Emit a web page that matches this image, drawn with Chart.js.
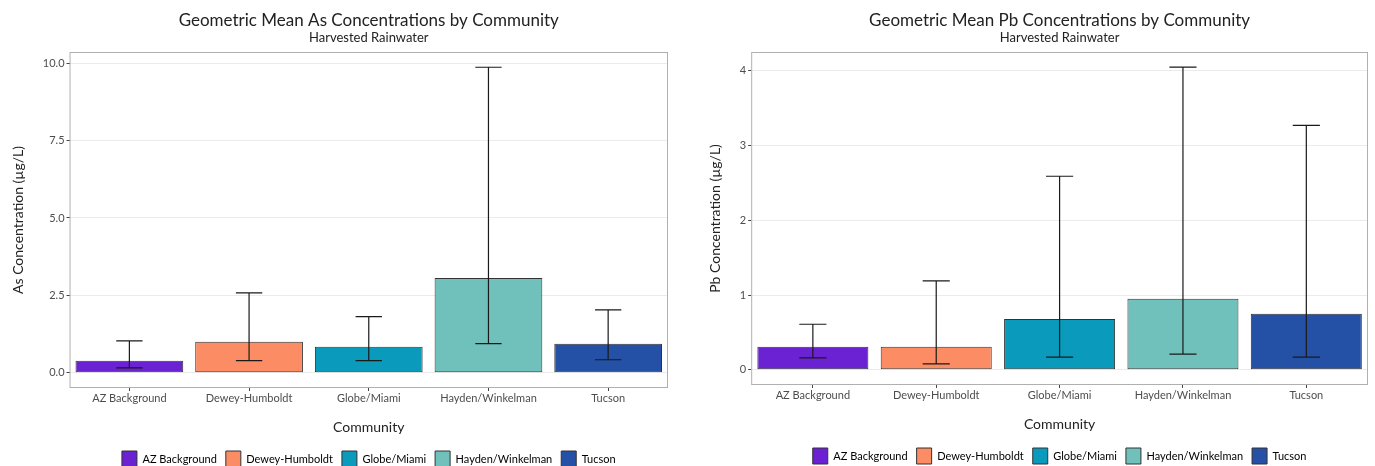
<!DOCTYPE html>
<html>
<head>
<meta charset="utf-8">
<script src="https://cdn.jsdelivr.net/npm/chart.js@4.4.1/dist/chart.umd.min.js"></script>
<style>
  body { margin: 0; background: #fff; }
  canvas { position: absolute; top: 0; }
  #asChart { left: 0; }
  #pbChart { left: 690px; }
</style>
</head>
<body>
<canvas id="asChart" width="690" height="466"></canvas>
<canvas id="pbChart" width="685" height="466"></canvas>
<script>
const communities = ['AZ Background', 'Dewey-Humboldt', 'Globe/Miami', 'Hayden/Winkelman', 'Tucson'];
const barColors = ['#6a22d2', '#fc8c63', '#0a9abb', '#70c1bb', '#2450a6'];

// As, ug/L
const asMean  = [0.39, 1.00, 0.84, 3.06, 0.94];
const asLower = [0.16, 0.39, 0.39, 0.94, 0.42];
const asUpper = [1.03, 2.58, 1.81, 9.87, 2.03];
const asTicks = [0, 2.5, 5, 7.5, 10];

// Pb, ug/L
const pbMean  = [0.31, 0.31, 0.68, 0.95, 0.75];
const pbLower = [0.16, 0.08, 0.17, 0.21, 0.17];
const pbUpper = [0.61, 1.19, 2.59, 4.05, 3.27];
const pbTicks = [0, 1, 2, 3, 4];

const FONT = 'Lato, "Open Sans", sans-serif';

// error bars + panel border
const errorBarPlugin = {
    id: 'errorBars',
    afterDatasetsDraw(chart, args, opts) {
        const ctx = chart.ctx;
        const y = chart.scales.y;
        const meta = chart.getDatasetMeta(0);
        const cat = chart.chartArea.width / communities.length;
        const cap = cat * 0.11;
        ctx.save();
        ctx.strokeStyle = '#1a1a1a';
        ctx.lineWidth = 1.2;
        meta.data.forEach((bar, i) => {
            const yl = y.getPixelForValue(opts.lower[i]);
            const yu = y.getPixelForValue(opts.upper[i]);
            ctx.beginPath();
            ctx.moveTo(bar.x, yl); ctx.lineTo(bar.x, yu);
            ctx.moveTo(bar.x - cap, yl); ctx.lineTo(bar.x + cap, yl);
            ctx.moveTo(bar.x - cap, yu); ctx.lineTo(bar.x + cap, yu);
            ctx.stroke();
        });
        const a = chart.chartArea;
        ctx.strokeStyle = '#b0b0b0';
        ctx.lineWidth = 1;
        ctx.strokeRect(a.left + 0.5, a.top + 0.5, a.width - 1, a.height - 1);
        ctx.restore();
    }
};

function makeChart(id, metal, mean, lower, upper, ticks, fmt, padding) {
    const top = Math.max(...upper);
    const expand = top * 0.05;
    const ctx = document.getElementById(id).getContext('2d');
    return new Chart(ctx, {
        type: 'bar',
        data: {
            labels: communities,
            datasets: [{
                data: mean,
                backgroundColor: barColors,
                borderColor: '#333333',
                borderWidth: 1,
                borderSkipped: false,
                barPercentage: 0.9,
                categoryPercentage: 1.0
            }]
        },
        options: {
            responsive: false,
            animation: false,
            layout: { padding: padding },
            plugins: {
                tooltip: { enabled: false },
                title: {
                    display: true,
                    fullSize: false,
                    text: 'Geometric Mean ' + metal + ' Concentrations by Community',
                    color: '#222',
                    font: { family: FONT, size: 17, weight: 'normal' },
                    padding: { top: 10, bottom: 0 }
                },
                subtitle: {
                    display: true,
                    fullSize: false,
                    text: 'Harvested Rainwater',
                    color: '#222',
                    font: { family: FONT, size: 13 },
                    padding: { top: 0, bottom: 6 }
                },
                legend: {
                    position: 'bottom',
                    fullSize: false,
                    labels: {
                        boxWidth: 15,
                        boxHeight: 16,
                        padding: 9,
                        color: '#222',
                        font: { family: FONT, size: 11 },
                        generateLabels: () => communities.map((c, i) => ({
                            text: c,
                            fillStyle: barColors[i],
                            strokeStyle: '#333333',
                            lineWidth: 1,
                            index: i
                        }))
                    }
                },
                errorBars: { lower: lower, upper: upper }
            },
            scales: {
                x: {
                    border: { display: false },
                    grid: { offset: false, drawOnChartArea: false, drawTicks: true, tickLength: 3, tickColor: '#444' },
                    ticks: { color: '#4d4d4d', font: { family: FONT, size: 11 }, padding: 1 },
                    title: {
                        display: true,
                        text: 'Community',
                        color: '#222',
                        font: { family: FONT, size: 14 },
                        padding: { top: 13, bottom: 6 }
                    }
                },
                y: {
                    min: -expand,
                    max: top + expand,
                    border: { display: false },
                    grid: { color: '#ebebeb', tickColor: '#444', tickLength: 3 },
                    afterBuildTicks: scale => { scale.ticks = ticks.map(v => ({ value: v })); },
                    ticks: {
                        color: '#4d4d4d',
                        font: { family: FONT, size: 11 },
                        padding: 2,
                        callback: v => fmt(v)
                    },
                    title: {
                        display: true,
                        text: metal + ' Concentration (µg/L)',
                        color: '#222',
                        font: { family: FONT, size: 14 },
                        padding: { top: 0, bottom: 14 }
                    }
                }
            }
        },
        plugins: [errorBarPlugin]
    });
}

makeChart('asChart', 'As', asMean, asLower, asUpper, asTicks, v => v.toFixed(1),
    { left: 10, right: 22, top: 0, bottom: -11 });
makeChart('pbChart', 'Pb', pbMean, pbLower, pbUpper, pbTicks, v => String(v),
    { left: 17, right: 7, top: 0, bottom: -8 });
</script>
</body>
</html>
